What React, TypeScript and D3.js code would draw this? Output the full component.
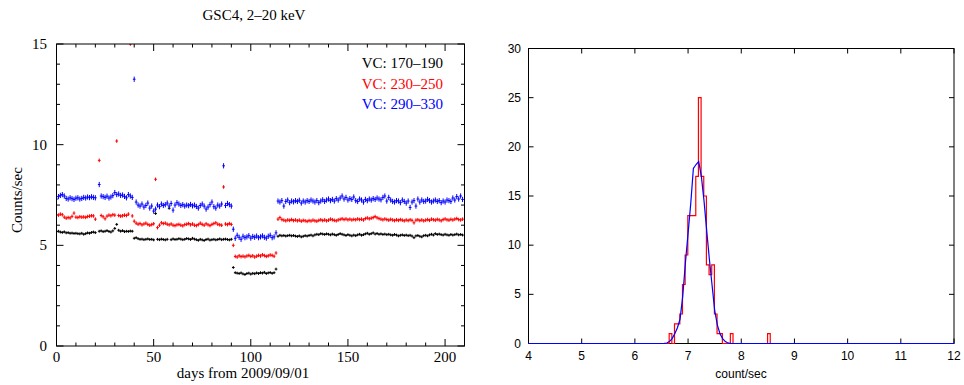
import React from "react";
import * as d3 from "d3";

// light curves, one point per day: [first day, values...]
const blackRuns: [number, number[]][] = [
  [0, [5.68, 5.70, 5.66, 5.64, 5.67, 5.62, 5.63, 5.60, 5.61, 5.59, 5.60, 5.58, 5.57, 5.60, 5.55, 5.58, 5.62, 5.60, 5.64, 5.66, 5.63]],
  [22, [5.70, 5.72, 5.68, 5.70, 5.73, 5.69, 5.66, 5.72, 5.84, 6.04, 5.75, 5.70, 5.73, 5.68, 5.70, 5.69, 5.71, 5.70]],
  [40, [5.35, 5.38, 5.33, 5.30, 5.31, 5.28, 5.30, 5.32, 5.29, 5.30, 5.27, 6.58, 5.30, 5.28, 5.31, 5.29, 5.27, 5.30, 6.84, 5.28,
        5.32, 5.29, 5.30, 5.33, 5.31, 5.28, 5.30, 5.34, 5.32, 5.29, 5.35, 5.31, 5.28, 5.25, 5.30, 5.27, 5.24, 5.29, 5.31, 5.26,
        5.28, 5.30, 5.27, 5.29, 5.32, 5.28, 5.30, 5.31, 5.29, 5.27, 5.30]],
  [91, [3.90, 3.64, 3.62, 3.60, 3.63, 3.58, 3.55, 3.60, 3.62, 3.57, 3.61, 3.59, 3.63, 3.60, 3.64, 3.62, 3.66, 3.60, 3.63, 3.65,
        3.61, 3.64, 3.82]],
  [114, [5.45, 5.50, 5.47, 5.49, 5.46, 5.48, 5.50, 5.47, 5.49, 5.46, 5.44, 5.47, 5.42, 5.45, 5.48, 5.46,
         5.49, 5.51, 5.47, 5.52, 5.55, 5.53, 5.58, 5.56, 5.54, 5.57, 5.55, 5.52, 5.56, 5.53, 5.50, 5.54,
         5.58, 5.55, 5.52, 5.49, 5.53, 5.50, 5.47, 5.51, 5.48, 5.52, 5.55, 5.50, 5.53, 5.57, 5.60, 5.55,
         5.58, 5.62, 5.56, 5.59, 5.55, 5.57, 5.54, 5.56, 5.53, 5.55, 5.52, 5.50, 5.54, 5.51, 5.47, 5.50,
         5.52, 5.49, 5.51, 5.48, 5.50, 5.46, 5.38, 5.47, 5.49, 5.45, 5.42, 5.48, 5.50, 5.47, 5.52, 5.55,
         5.51, 5.58, 5.54, 5.56, 5.53, 5.51, 5.55, 5.52, 5.50, 5.54, 5.51, 5.53, 5.56, 5.52, 5.54, 5.51]],
];

const redRuns: [number, number[]][] = [
  [0, [6.52, 6.50, 6.55, 6.52, 6.40, 6.35, 6.38, 6.36, 6.44, 6.60, 6.40, 6.38, 6.42, 6.40, 6.41, 6.39, 6.43, 6.45, 6.47, 6.46, 6.30]],
  [22, [9.22, 6.48, 6.42, 6.32, 6.45, 6.50, 6.47, 6.52, 6.50, 10.18, 6.48, 6.45, 6.47, 6.50, 6.48, 6.55, 15.0, 6.46]],
  [40, [6.20, 6.10, 6.05, 6.08, 6.02, 6.06, 6.10, 6.04, 6.00, 6.03, 6.07, 8.28, 5.88, 6.00, 6.12, 6.08, 6.10, 6.05, 6.02, 6.06,
        6.00, 5.98, 6.02, 6.04, 6.00, 5.97, 6.03, 6.05, 6.08, 6.02, 6.06, 6.00, 5.98, 6.03, 6.10, 6.04, 6.00, 6.07, 6.02, 5.98,
        6.04, 6.08, 6.12, 6.05, 6.02, 6.00, 7.90, 6.06, 6.03, 6.08, 6.04]],
  [91, [5.00, 4.45, 4.42, 4.48, 4.44, 4.46, 4.43, 4.47, 4.50, 4.45, 4.48, 4.42, 4.46, 4.50, 4.47, 4.53, 4.49, 4.45, 4.48, 4.52,
        4.50, 4.46, 4.62]],
  [114, [6.30, 6.38, 6.28, 6.25, 6.22, 6.26, 6.24, 6.28, 6.23, 6.26, 6.22, 6.25, 6.20, 6.24, 6.22, 6.19,
         6.23, 6.21, 6.25, 6.22, 6.20, 6.24, 6.27, 6.23, 6.26, 6.22, 6.25, 6.30, 6.27, 6.24, 6.22, 6.26,
         6.29, 6.32, 6.28, 6.31, 6.27, 6.30, 6.26, 6.29, 6.27, 6.31, 6.28, 6.30, 6.26, 6.33, 6.36, 6.32,
         6.35, 6.38, 6.43, 6.37, 6.33, 6.30, 6.27, 6.31, 6.28, 6.25, 6.29, 6.26, 6.23, 6.27, 6.24, 6.28,
         6.25, 6.22, 6.26, 6.23, 6.27, 6.24, 6.12, 6.25, 6.27, 6.23, 6.26, 6.22, 6.25, 6.28, 6.24, 6.30,
         6.27, 6.25, 6.29, 6.26, 6.22, 6.28, 6.31, 6.27, 6.25, 6.29, 6.26, 6.30, 6.33, 6.28, 6.26, 6.30]],
];

const blueRuns: [number, number[]][] = [
  [0, [7.30, 7.42, 7.48, 7.52, 7.45, 7.33, 7.30, 7.36, 7.32, 7.28, 7.34, 7.36, 7.30, 7.33, 7.38, 7.35, 7.40, 7.37, 7.41, 7.38, 7.36]],
  [22, [8.02, 7.45, 7.42, 7.38, 7.44, 7.35, 7.40, 7.47, 7.62, 7.52, 7.55, 7.48, 7.50, 7.43, 7.36, 7.52, 7.45, 7.38]],
  [40, [13.25, 7.15, 7.00, 6.95, 7.05, 6.90, 6.98, 7.10, 6.85, 6.95, 6.70, 6.80, 7.00, 6.92, 7.05, 6.98, 7.02, 7.10, 6.95, 7.08,
        6.75, 7.00, 7.12, 7.05, 6.98, 7.02, 6.95, 7.00, 6.97, 7.03, 6.96, 7.00, 6.93, 6.85, 6.98, 7.05, 6.95, 6.80, 6.90, 7.02,
        7.15, 6.92, 6.85, 7.00, 6.95, 7.05, 8.95, 6.98, 7.08, 7.02, 6.95]],
  [91, [5.80, 5.35, 5.50, 5.40, 5.30, 5.45, 5.38, 5.42, 5.48, 5.36, 5.44, 5.40, 5.46, 5.38, 5.42, 5.47, 5.40, 5.36, 5.45, 5.50,
        5.38, 5.42, 5.62]],
  [114, [7.20, 7.15, 7.22, 6.95, 7.18, 7.25, 7.12, 7.20, 7.16, 7.22, 7.18, 7.24, 7.10, 7.20, 7.15, 7.22,
         7.18, 7.25, 7.20, 7.15, 7.22, 7.12, 7.20, 7.26, 7.18, 7.25, 7.30, 7.22, 7.28, 7.20, 7.32, 7.25,
         7.35, 7.45, 7.30, 7.38, 7.25, 7.32, 7.28, 7.40, 7.22, 7.18, 7.30, 7.25, 7.15, 7.28, 7.22, 7.30,
         7.25, 7.32, 7.28, 7.35, 7.30, 7.26, 7.38, 7.45, 7.20, 7.38, 7.25, 7.18, 7.15, 7.22, 7.20, 7.12,
         7.25, 7.18, 7.10, 7.20, 6.88, 7.15, 7.22, 6.95, 7.30, 7.15, 7.25, 7.18, 7.20, 7.28, 7.22, 7.15,
         7.20, 7.25, 7.18, 7.22, 7.12, 7.20, 7.15, 7.25, 7.22, 7.18, 7.35, 7.25, 7.42, 7.30, 7.45, 7.28]],
];

const seriesLabels = ["VC: 170\u2013190", "VC: 230\u2013250", "VC: 290\u2013330"];
const seriesErr = [0.07, 0.09, 0.13];

// histogram (count/sec), bins of 0.05 starting at histStart
const histStart = 6.645;
const histWidth = 0.05;
const histCounts = [1, 0, 2, 2, 3, 6, 9, 13, 13, 13, 17, 25, 17, 15, 8, 7, 8, 3, 1, 1, 0, 0, 0, 1,
  0, 0, 0, 0, 0, 0, 0, 0, 0, 0, 0, 0, 0, 1];

// gaussian fit curve
const fitPoints: [number, number][] = [
  [4, 0], [6.5, 0], [6.55, 0.02], [6.6, 0.05], [6.65, 0.2], [6.7, 0.5], [6.75, 1.0], [6.8, 1.6], [6.85, 2.5],
  [6.9, 4.8], [6.95, 8.2], [7.0, 11.2], [7.05, 14.2], [7.1, 17.8], [7.15, 18.2], [7.2, 18.5], [7.25, 17.0],
  [7.3, 14.5], [7.35, 11.5], [7.4, 8.6], [7.45, 6.0], [7.5, 3.4], [7.55, 1.9], [7.6, 1.0], [7.65, 0.5],
  [7.7, 0.2], [7.75, 0.06], [7.8, 0], [12, 0],
];

const colors = ["#000000", "#ff0000", "#0000ff"];
const serif = "'Liberation Serif', 'DejaVu Serif', serif";
const sans = "'Liberation Sans', Arial, sans-serif";

export default function App() {
  const xL = d3.scaleLinear().domain([0, 210]).range([56.5, 464.5]);
  const yL = d3.scaleLinear().domain([0, 15]).range([346, 44]);
  const xR = d3.scaleLinear().domain([4, 12]).range([528.5, 954]);
  const yR = d3.scaleLinear().domain([0, 30]).range([343.5, 48.5]);

  const series = [blackRuns, redRuns, blueRuns].map((runs) =>
    runs.flatMap(([d0, vals]) => vals.map((v, i) => ({ day: d0 + i, v })))
  );

  const xMajor = [0, 50, 100, 150, 200];
  const xMinor = d3.range(0, 211, 10).filter((d) => d % 50 !== 0);
  const yMajor = [0, 5, 10, 15];
  const yMinor = d3.range(0, 16).filter((d) => d % 5 !== 0);

  const [lx0, lx1] = xL.range();
  const [ly0, ly1] = [yL(0), yL(15)];

  // histogram step path
  const histPts: [number, number][] = [[4, 0]];
  histCounts.forEach((c, i) => histPts.push([histStart + i * histWidth, c]));
  histPts.push([histStart + histCounts.length * histWidth, 0]);
  histPts.push([12, 0]);
  const stepLine = d3.line<[number, number]>().x((d) => xR(d[0])).y((d) => yR(d[1])).curve(d3.curveStepAfter);
  const fitLine = d3.line<[number, number]>().x((d) => xR(d[0])).y((d) => yR(d[1]));

  const [rx0, rx1] = xR.range();
  const [ry0, ry1] = [yR(0), yR(30)];

  return (
    <svg width={964} height={385} style={{ position: "absolute", left: 0, top: 0, background: "#fff" }}>
      <defs>
        <clipPath id="clipL">
          <rect x={lx0} y={ly1} width={lx1 - lx0} height={ly0 - ly1} />
        </clipPath>
      </defs>

      {/* left panel: light curves */}
      <text x={254} y={20} textAnchor="middle" fontFamily={serif} fontSize={15}>GSC4, 2–20 keV</text>
      <g clipPath="url(#clipL)">
        {series.map((pts, si) => (
          <g key={si} stroke={colors[si]} strokeWidth={1}>
            {pts.map((p, i) => (
              <g key={i}>
                <line x1={xL(p.day)} x2={xL(p.day)} y1={yL(p.v - seriesErr[si])} y2={yL(p.v + seriesErr[si])} />
                <line x1={xL(p.day - 0.7)} x2={xL(p.day + 0.7)} y1={yL(p.v)} y2={yL(p.v)} />
              </g>
            ))}
          </g>
        ))}
      </g>
      <g stroke="#000" strokeWidth={1} fill="none">
        <rect x={lx0} y={ly1} width={lx1 - lx0} height={ly0 - ly1} />
        {xMajor.map((d) => (
          <g key={"xm" + d}>
            <line x1={xL(d)} x2={xL(d)} y1={ly0} y2={ly0 - 7} />
            <line x1={xL(d)} x2={xL(d)} y1={ly1} y2={ly1 + 7} />
          </g>
        ))}
        {xMinor.map((d) => (
          <g key={"xn" + d}>
            <line x1={xL(d)} x2={xL(d)} y1={ly0} y2={ly0 - 3.5} />
            <line x1={xL(d)} x2={xL(d)} y1={ly1} y2={ly1 + 3.5} />
          </g>
        ))}
        {yMajor.map((d) => (
          <g key={"ym" + d}>
            <line x1={lx0} x2={lx0 + 7} y1={yL(d)} y2={yL(d)} />
            <line x1={lx1} x2={lx1 - 7} y1={yL(d)} y2={yL(d)} />
          </g>
        ))}
        {yMinor.map((d) => (
          <g key={"yn" + d}>
            <line x1={lx0} x2={lx0 + 3.5} y1={yL(d)} y2={yL(d)} />
            <line x1={lx1} x2={lx1 - 3.5} y1={yL(d)} y2={yL(d)} />
          </g>
        ))}
      </g>
      <g fontFamily={serif} fontSize={15} fill="#000">
        {xMajor.map((d) => (
          <text key={d} x={xL(d)} y={362} textAnchor="middle">{d}</text>
        ))}
        {yMajor.map((d) => (
          <text key={d} x={47} y={yL(d) + 5} textAnchor="end">{d}</text>
        ))}
        <text x={243} y={378} textAnchor="middle">days from 2009/09/01</text>
        <text transform="translate(22,200) rotate(-90)" textAnchor="middle">Counts/sec</text>
        {seriesLabels.map((s, i) => (
          <text key={s} x={443} y={68 + i * 20.5} textAnchor="end" fill={colors[i]}>{s}</text>
        ))}
      </g>

      {/* right panel: histogram */}
      <g stroke="#000" strokeWidth={1} fill="none">
        <rect x={rx0} y={ry1} width={rx1 - rx0} height={ry0 - ry1} />
        {d3.range(4, 13).map((d) => (
          <g key={"rx" + d}>
            <line x1={xR(d)} x2={xR(d)} y1={ry0} y2={ry0 - 5} />
            <line x1={xR(d)} x2={xR(d)} y1={ry1} y2={ry1 + 5} />
          </g>
        ))}
        {d3.range(0, 31, 5).map((d) => (
          <g key={"ry" + d}>
            <line x1={rx0} x2={rx0 + 5} y1={yR(d)} y2={yR(d)} />
            <line x1={rx1} x2={rx1 - 5} y1={yR(d)} y2={yR(d)} />
          </g>
        ))}
      </g>
      <path d={stepLine(histPts) || undefined} fill="none" stroke="#ff0000" strokeWidth={1.2} />
      <path d={fitLine(fitPoints) || undefined} fill="none" stroke="#0000ff" strokeWidth={1.2} />
      <g fontFamily={sans} fontSize={12} fill="#000">
        {d3.range(4, 13).map((d) => (
          <text key={d} x={xR(d)} y={360} textAnchor="middle">{d}</text>
        ))}
        {d3.range(0, 31, 5).map((d) => (
          <text key={d} x={521} y={yR(d) + 4} textAnchor="end">{d}</text>
        ))}
        <text x={741} y={378} textAnchor="middle">count/sec</text>
      </g>
    </svg>
  );
}
